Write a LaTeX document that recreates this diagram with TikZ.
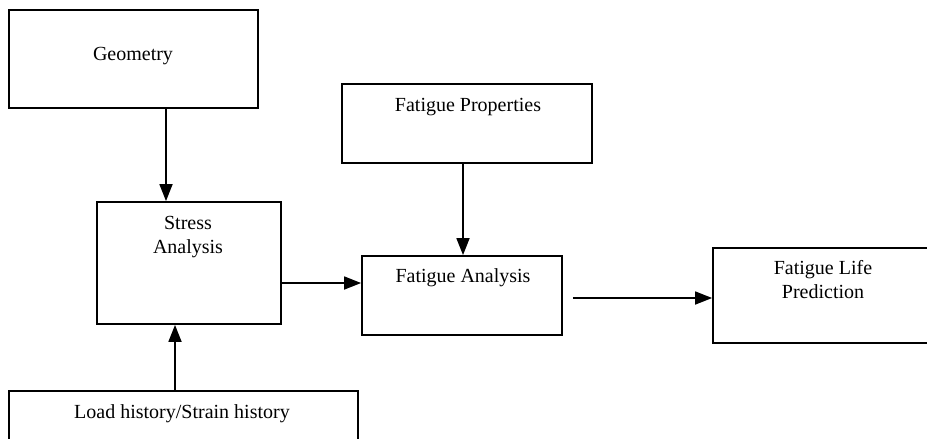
\documentclass[tikz,border=0pt]{standalone}
\usepackage{fontspec}
\setmainfont{Liberation Serif}
\usetikzlibrary{arrows.meta}
\begin{document}
\begin{tikzpicture}[x=1pt,y=-1pt,
  box/.style={draw, line width=1.8pt, inner sep=0pt},
  txt/.style={anchor=base, inner sep=0pt, font=\fontsize{20}{24}\selectfont, align=center},
  arr/.style={line width=1.8pt, -{Triangle[length=17pt,width=13pt]}}]
\useasboundingbox (0,0) rectangle (927,439);
\clip (0,0) rectangle (927,439);
% boxes
\node[box, minimum width=249pt, minimum height=98pt] (geo) at (133.5,59) {};
\node[box, minimum width=184pt, minimum height=122pt] (stress) at (189,263) {};
\node[box, minimum width=250pt, minimum height=79pt] (fp) at (467,123.5) {};
\node[box, minimum width=200pt, minimum height=79pt] (fa) at (462,295.5) {};
\node[box, minimum width=222pt, minimum height=95pt] (flp) at (824,295.5) {};
\node[box, minimum width=349pt, minimum height=70pt] (load) at (183.5,426) {};
% texts (base anchor = baseline of the last line)
\node[txt] (tgeo) at (133,60) {Geometry};
\node[txt] (tstress) at (188,253) {Stress\\Analysis};
\node[txt] (tfp) at (468,111) {Fatigue Properties};
\node[txt] (tfa) at (463,282) {Fatigue Analysis};
\node[txt] (tflp) at (823,298) {Fatigue Life\\Prediction};
\node[txt] (tload) at (182,418) {Load history/Strain history};
% connectors
\draw[arr] (geo.south -| 166,0) -- (stress.north -| 166,0);
\draw[arr] (stress.east |- 0,283) -- (fa.west |- 0,283);
\draw[arr] (fp.south -| 463,0) -- (fa.north -| 463,0);
\draw[arr, shorten <=10pt] (fa.east |- 0,298) -- (flp.west |- 0,298);
\draw[arr] (load.north -| 175,0) -- (stress.south -| 175,0);
\end{tikzpicture}
\end{document}
